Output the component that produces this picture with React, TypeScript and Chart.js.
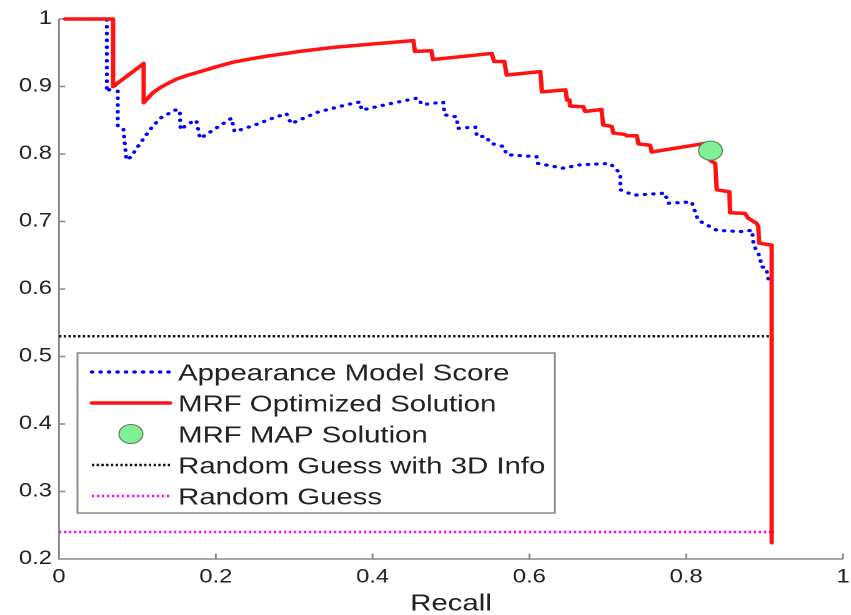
import React, { useEffect, useRef } from "react";
import { Chart, registerables } from "chart.js";

Chart.register(...registerables);

// ---- axis ticks / labels ----
const xTickValues = [0, 0.2, 0.4, 0.6, 0.8, 1];
const xTickLabels = ["0", "0.2", "0.4", "0.6", "0.8", "1"];
const yTickValues = [0.2, 0.3, 0.4, 0.5, 0.6, 0.7, 0.8, 0.9, 1];
const yTickLabels = ["0.2", "0.3", "0.4", "0.5", "0.6", "0.7", "0.8", "0.9", "1"];
const xAxisTitle = "Recall";

// ---- series names (legend order) ----
const seriesNames = [
  "Appearance Model Score",
  "MRF Optimized Solution",
  "MRF MAP Solution",
  "Random Guess with 3D Info",
  "Random Guess",
];

// ---- Appearance Model Score ----
const appearanceRecall = [
  0.008, 0.061, 0.061, 0.071, 0.075, 0.075, 0.082, 0.086, 0.092, 0.1, 0.116, 0.129, 0.148, 0.154, 0.155, 0.165,
  0.175, 0.18, 0.2, 0.22, 0.224, 0.25, 0.27, 0.29, 0.296, 0.33, 0.367, 0.384, 0.386, 0.42, 0.458, 0.463, 0.49,
  0.492, 0.507, 0.509, 0.531, 0.533, 0.545, 0.55, 0.567, 0.571, 0.609, 0.611, 0.643, 0.665, 0.703, 0.716, 0.716,
  0.733, 0.773, 0.777, 0.807, 0.815, 0.839, 0.869, 0.884, 0.886, 0.894, 0.896, 0.902, 0.905,
];
const appearancePrecision = [
  1.0, 1.0, 0.892, 0.902, 0.898, 0.842, 0.838, 0.791, 0.796, 0.81, 0.836, 0.853, 0.865, 0.865, 0.836, 0.845,
  0.85, 0.823, 0.838, 0.853, 0.833, 0.843, 0.852, 0.86, 0.845, 0.862, 0.873, 0.877, 0.865, 0.874, 0.883, 0.873, 0.877,
  0.858, 0.855, 0.838, 0.84, 0.826, 0.826, 0.816, 0.811, 0.799, 0.796, 0.786, 0.779, 0.784, 0.786, 0.771, 0.747,
  0.739, 0.742, 0.727, 0.729, 0.702, 0.687, 0.685, 0.687, 0.665, 0.648, 0.633, 0.631, 0.613,
];

// ---- MRF Optimized Solution ----
const mrfRecall = [
  0.008, 0.069, 0.069, 0.108, 0.108, 0.12, 0.13, 0.138, 0.15, 0.165, 0.18, 0.2, 0.222, 0.245, 0.265, 0.29, 0.307,
  0.35, 0.4, 0.452, 0.454, 0.475, 0.477, 0.552, 0.555, 0.568, 0.571, 0.614, 0.616, 0.646, 0.648, 0.651, 0.652,
  0.669, 0.671, 0.692, 0.694, 0.705, 0.707, 0.722, 0.724, 0.737, 0.739, 0.754, 0.756, 0.826, 0.829, 0.83, 0.837,
  0.839, 0.855, 0.856, 0.875, 0.879, 0.89, 0.892, 0.893, 0.909, 0.909,
];
const mrfPrecision = [
  1.0, 1.0, 0.9, 0.934, 0.876, 0.891, 0.899, 0.904, 0.911, 0.917, 0.922, 0.929, 0.936, 0.941, 0.945, 0.949, 0.952,
  0.958, 0.963, 0.968, 0.952, 0.953, 0.94, 0.949, 0.937, 0.937, 0.917, 0.922, 0.892, 0.895, 0.88, 0.88, 0.871,
  0.87, 0.863, 0.866, 0.843, 0.841, 0.831, 0.829, 0.827, 0.827, 0.815, 0.813, 0.803, 0.816, 0.795, 0.791, 0.786,
  0.747, 0.744, 0.713, 0.712, 0.705, 0.697, 0.692, 0.668, 0.665, 0.224,
];

// ---- MRF MAP Solution ----
const mapRecall = [0.831];
const mapPrecision = [0.805];

// ---- Random guesses ----
const guess3dRecall = [0, 0.912];
const guess3dPrecision = [0.53, 0.53];
const guessRecall = [0, 0.912];
const guessPrecision = [0.24, 0.24];

// ---- styling ----
const FONT = '"Liberation Sans", Arial, Helvetica, sans-serif';
const TEXT_COLOR = "#222222";
const AXIS_COLOR = "#8a8a8a";
const RENDER_W = 681; // drawing width, shown stretched to 851 px like the reference
const RENDER_H = 615;

const pts = (xs: number[], ys: number[]) => xs.map((x, i) => ({ x, y: ys[i] }));

const matlabPlugin = {
  id: "matlabAxesAndLegend",
  beforeDatasetsDraw(chart: any) {
    const { ctx, scales } = chart;
    const x = scales.x;
    const y = scales.y;
    const x0 = x.getPixelForValue(0);
    const x1 = x.getPixelForValue(1);
    const yb = y.getPixelForValue(0.2);
    const yt = y.getPixelForValue(1);
    ctx.save();
    ctx.strokeStyle = AXIS_COLOR;
    ctx.lineWidth = 1.5;
    ctx.setLineDash([]);
    ctx.beginPath();
    ctx.moveTo(x0, yt);
    ctx.lineTo(x0, yb);
    ctx.lineTo(x1, yb);
    for (const v of xTickValues) {
      const px = x.getPixelForValue(v);
      ctx.moveTo(px, yb);
      ctx.lineTo(px, yb - 5.5);
    }
    for (const v of yTickValues) {
      const py = y.getPixelForValue(v);
      ctx.moveTo(x0, py);
      ctx.lineTo(x0 + 5, py);
    }
    ctx.stroke();
    ctx.restore();
  },
  afterDatasetsDraw(chart: any) {
    const { ctx } = chart;
    const ds = chart.data.datasets;
    const left = 62,
      top = 353,
      right = 444,
      bottom = 513;
    ctx.save();
    ctx.fillStyle = "#ffffff";
    ctx.fillRect(left, top, right - left, bottom - top);
    ctx.strokeStyle = AXIS_COLOR;
    ctx.lineWidth = 1.5;
    ctx.setLineDash([]);
    ctx.strokeRect(left, top, right - left, bottom - top);

    // legend entries in the order of seriesNames
    const legendOrder = [2, 1, 0, 3, 4]; // dataset index per legend row
    const rowY0 = 372;
    const rowStep = 31;
    const sx0 = 73.5,
      sx1 = 136;
    const textX = 142.5;
    ctx.font = `23.5px ${FONT}`;
    ctx.textAlign = "left";
    ctx.textBaseline = "alphabetic";
    legendOrder.forEach((di, row) => {
      const d = ds[di];
      const cy = rowY0 + row * rowStep;
      if (d.showLine) {
        ctx.beginPath();
        ctx.strokeStyle = d.borderColor;
        ctx.lineWidth = d.borderWidth;
        ctx.setLineDash(d.borderDash || []);
        ctx.lineCap = d.borderCapStyle || "butt";
        ctx.moveTo(sx0, cy);
        ctx.lineTo(sx1, cy);
        ctx.stroke();
      } else {
        ctx.beginPath();
        ctx.setLineDash([]);
        ctx.fillStyle = d.pointBackgroundColor;
        ctx.strokeStyle = d.pointBorderColor;
        ctx.lineWidth = d.pointBorderWidth;
        ctx.arc((sx0 + sx1) / 2, cy, d.pointRadius, 0, Math.PI * 2);
        ctx.fill();
        ctx.stroke();
      }
      ctx.fillStyle = TEXT_COLOR;
      ctx.fillText(seriesNames[row], textX, cy + 8.4);
    });
    ctx.restore();
  },
};

export default function App() {
  const ref = useRef<HTMLCanvasElement>(null);

  useEffect(() => {
    const canvas = ref.current;
    if (!canvas) return;

    const lineBase = { showLine: true, pointRadius: 0, tension: 0, fill: false, clip: false as any };

    const chart = new Chart(canvas, {
      type: "scatter",
      data: {
        datasets: [
          {
            label: seriesNames[2],
            data: pts(mapRecall, mapPrecision),
            showLine: false,
            pointRadius: 9.5,
            pointBackgroundColor: "rgb(128,240,150)",
            pointBorderColor: "#5b7d5b",
            pointBorderWidth: 1,
            order: 0,
            clip: false as any,
          } as any,
          {
            ...lineBase,
            label: seriesNames[1],
            data: pts(mrfRecall, mrfPrecision),
            borderColor: "rgb(255,18,18)",
            borderWidth: 3.5,
            borderCapStyle: "round",
            borderJoinStyle: "round",
            order: 1,
          } as any,
          {
            ...lineBase,
            label: seriesNames[0],
            data: pts(appearanceRecall, appearancePrecision),
            borderColor: "#0000ff",
            borderWidth: 3.2,
            borderDash: [0.4, 6.4],
            borderCapStyle: "round",
            order: 2,
          } as any,
          {
            ...lineBase,
            label: seriesNames[3],
            data: pts(guess3dRecall, guess3dPrecision),
            borderColor: "#111111",
            borderWidth: 2.5,
            borderDash: [1.9, 1.9],
            order: 3,
          } as any,
          {
            ...lineBase,
            label: seriesNames[4],
            data: pts(guessRecall, guessPrecision),
            borderColor: "#ff00ff",
            borderWidth: 2.5,
            borderDash: [1.9, 2.1],
            order: 4,
          } as any,
        ],
      },
      options: {
        animation: false,
        responsive: false,
        devicePixelRatio: 2,
        events: [],
        layout: { autoPadding: false, padding: { top: 19, right: 6.4, left: 0, bottom: 0 } },
        plugins: {
          legend: { display: false },
          tooltip: { enabled: false },
        },
        scales: {
          x: {
            type: "linear",
            min: 0,
            max: 1,
            grid: { display: false, drawTicks: false },
            border: { display: false },
            afterBuildTicks: (scale: any) => {
              scale.ticks = xTickValues.map((v) => ({ value: v }));
            },
            afterFit: (scale: any) => {
              scale.height = 56;
              scale.paddingLeft = 0;
              scale.paddingRight = 0;
            },
            ticks: {
              autoSkip: false,
              maxRotation: 0,
              padding: 7,
              color: TEXT_COLOR,
              font: { family: FONT, size: 19 },
              callback: (_v: any, i: number) => xTickLabels[i],
            },
            title: {
              display: true,
              text: xAxisTitle,
              color: TEXT_COLOR,
              font: { family: FONT, size: 23.5, lineHeight: 0.95 },
              padding: { top: 0, bottom: 0 },
            },
          },
          y: {
            type: "linear",
            min: 0.2,
            max: 1,
            grid: { display: false, drawTicks: false },
            border: { display: false },
            afterBuildTicks: (scale: any) => {
              scale.ticks = yTickValues.map((v) => ({ value: v }));
            },
            afterFit: (scale: any) => {
              scale.width = 47.2;
              scale.paddingTop = 0;
              scale.paddingBottom = 0;
            },
            ticks: {
              autoSkip: false,
              padding: 5.6,
              color: TEXT_COLOR,
              font: { family: FONT, size: 19 },
              callback: (_v: any, i: number) => yTickLabels[i],
            },
          },
        },
      } as any,
      plugins: [matlabPlugin],
    });

    return () => chart.destroy();
  }, []);

  return (
    <div style={{ position: "fixed", left: 0, top: 0, width: 851, height: 615, background: "#ffffff" }}>
      <canvas
        ref={ref}
        width={RENDER_W}
        height={RENDER_H}
        style={{ display: "block", width: "851px", height: "615px" }}
      />
    </div>
  );
}
